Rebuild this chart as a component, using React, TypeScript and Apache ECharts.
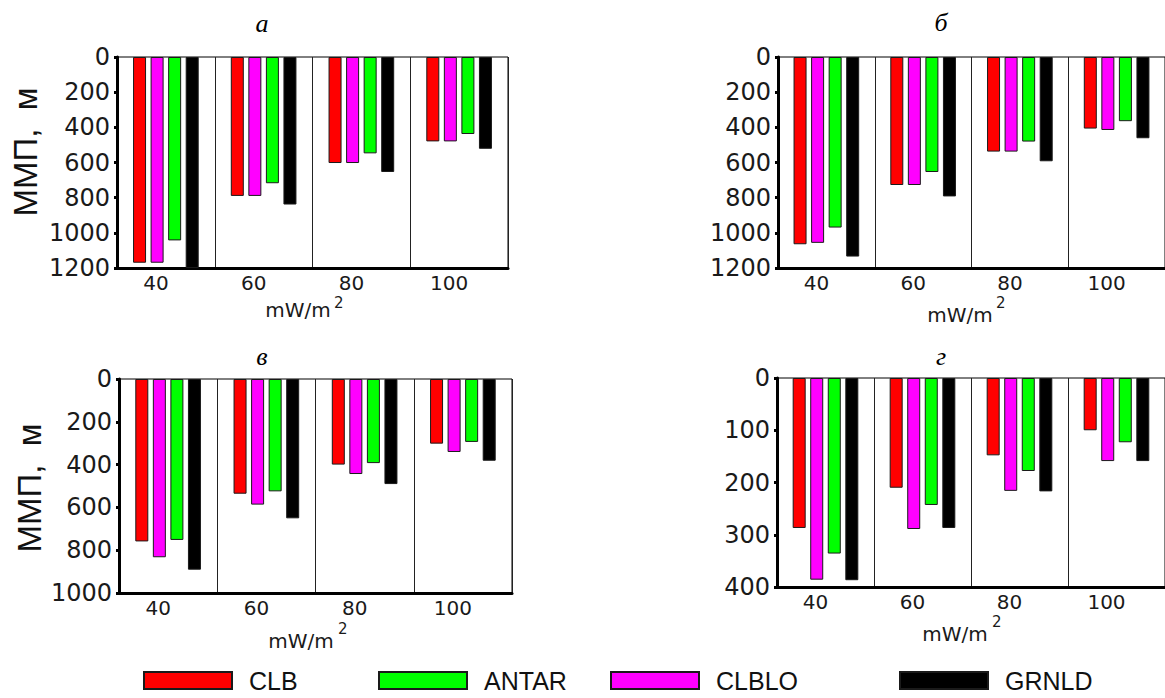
import React, { useEffect, useRef } from 'react';
import * as echarts from 'echarts';

// ---- data ----
const categories = ['40', '60', '80', '100'];
const seriesOrder = ['CLB', 'CLBLO', 'ANTAR', 'GRNLD'];
const legendOrder = ['CLB', 'ANTAR', 'CLBLO', 'GRNLD'];
const panelTitles = ['а', 'б', 'в', 'г'];
const yMaxes = [1200, 1200, 1000, 400];
const ySteps = [200, 200, 200, 100];

// panel а
const aCLB = [1170, 790, 603, 480];
const aCLBLO = [1170, 790, 603, 480];
const aANTAR = [1043, 718, 548, 438];
const aGRNLD = [1200, 839, 654, 522];
// panel б
const bCLB = [1065, 728, 538, 407];
const bCLBLO = [1057, 728, 538, 415];
const bANTAR = [970, 654, 481, 365];
const bGRNLD = [1135, 793, 593, 462];
// panel в
const vCLB = [759, 536, 400, 302];
const vCLBLO = [833, 587, 444, 341];
const vANTAR = [752, 525, 393, 294];
const vGRNLD = [891, 651, 491, 382];
// panel г
const gCLB = [287, 210, 148, 100];
const gCLBLO = [386, 289, 216, 159];
const gANTAR = [336, 243, 178, 123];
const gGRNLD = [387, 287, 217, 159];

const panelData: Record<string, number[]>[] = [
  { CLB: aCLB, CLBLO: aCLBLO, ANTAR: aANTAR, GRNLD: aGRNLD },
  { CLB: bCLB, CLBLO: bCLBLO, ANTAR: bANTAR, GRNLD: bGRNLD },
  { CLB: vCLB, CLBLO: vCLBLO, ANTAR: vANTAR, GRNLD: vGRNLD },
  { CLB: gCLB, CLBLO: gCLBLO, ANTAR: gANTAR, GRNLD: gGRNLD },
];

const seriesColors: Record<string, string> = {
  CLB: '#ff0000',
  CLBLO: '#ff00ff',
  ANTAR: '#00ff00',
  GRNLD: '#000000',
};

const yName = 'ММП,  м';
const xName = 'mW/m';
const xNameSup = '2';

export default function App() {
  const ref = useRef<HTMLDivElement>(null);

  useEffect(() => {
    if (!ref.current) return;
    const chart = echarts.init(ref.current, undefined, { renderer: 'svg' });

    const grids = [
      { left: 117, top: 57, width: 391, height: 211 },
      { left: 778, top: 57, width: 392, height: 211 },
      { left: 119, top: 379, width: 393, height: 214 },
      { left: 777, top: 378, width: 388, height: 209 },
    ];
    const titlePos = [
      [262, 23],
      [941, 22],
      [262, 356],
      [941, 356],
    ];
    // [mW/m centre x, centre y, "2" left x, "2" centre y]
    const xNamePos = [
      [298, 310, 334, 303],
      [960, 315, 996, 303],
      [301, 641, 338, 629],
      [955, 634, 992, 622],
    ];
    const yNamePos = [
      [25, 152],
      [29, 488],
    ];
    const legendLeft = [143, 378, 610, 899];

    const axisFont = "'DejaVu Sans', 'Liberation Sans', sans-serif";
    const textFont = "'Liberation Sans', Arial, sans-serif";

    const graphic: any[] = [];
    panelTitles.forEach((t, i) => {
      graphic.push({
        type: 'text',
        x: titlePos[i][0],
        y: titlePos[i][1],
        style: {
          text: t,
          fontSize: 26,
          fontStyle: 'italic',
          fontFamily: "'Liberation Serif', 'DejaVu Serif', serif",
          fill: '#000',
          textAlign: 'center',
          textVerticalAlign: 'middle',
        },
      });
      graphic.push({
        type: 'text',
        x: xNamePos[i][0],
        y: xNamePos[i][1],
        style: {
          text: xName,
          fontSize: 20,
          fontFamily: axisFont,
          fill: '#1a1a1a',
          textAlign: 'center',
          textVerticalAlign: 'middle',
        },
      });
      graphic.push({
        type: 'text',
        x: xNamePos[i][2],
        y: xNamePos[i][3],
        style: {
          text: xNameSup,
          fontSize: 15,
          fontFamily: axisFont,
          fill: '#1a1a1a',
          textAlign: 'left',
          textVerticalAlign: 'middle',
        },
      });
    });
    yNamePos.forEach((p) => {
      graphic.push({
        type: 'text',
        x: p[0],
        y: p[1],
        rotation: Math.PI / 2,
        style: {
          text: yName,
          fontSize: 33,
          fontFamily: textFont,
          fill: '#111',
          textAlign: 'center',
          textVerticalAlign: 'middle',
        },
      });
    });

    const series: any[] = [];
    panelData.forEach((pd, i) => {
      seriesOrder.forEach((name) => {
        series.push({
          type: 'bar',
          name,
          xAxisIndex: i,
          yAxisIndex: i,
          data: pd[name],
          barWidth: 13,
          barGap: '35%',
          silent: true,
          itemStyle: {
            color: seriesColors[name],
            borderColor: '#1a1a1a',
            borderWidth: 1,
          },
        });
      });
    });

    const option: any = {
      animation: false,
      backgroundColor: '#ffffff',
      grid: grids.map((g) => ({
        ...g,
        show: true,
        borderColor: '#000',
        borderWidth: 1,
        backgroundColor: 'transparent',
      })),
      xAxis: grids.map((_, i) => ({
        type: 'category',
        gridIndex: i,
        data: categories,
        axisLine: { show: true, onZero: false, lineStyle: { color: '#000', width: 3 } },
        axisTick: { show: false },
        axisLabel: {
          fontSize: 20,
          fontFamily: axisFont,
          color: '#1a1a1a',
          margin: 5,
          padding: [0, 20, 0, 0],
        },
        splitLine: { show: true, interval: 0, lineStyle: { color: '#222', width: 1 } },
      })),
      yAxis: grids.map((_, i) => ({
        type: 'value',
        gridIndex: i,
        inverse: true,
        min: 0,
        max: yMaxes[i],
        interval: ySteps[i],
        axisLine: { show: true, lineStyle: { color: '#000', width: 3 } },
        axisTick: { show: true, length: 3, lineStyle: { color: '#000', width: 3 } },
        axisLabel: {
          fontSize: 24,
          fontFamily: axisFont,
          color: '#1a1a1a',
          margin: 7,
          padding: [8, 0, 0, 0],
          formatter: (v: number) => String(v),
        },
        splitLine: { show: false },
      })),
      legend: legendOrder.map((name, i) => ({
        data: [name],
        left: legendLeft[i],
        top: 668,
        padding: 0,
        icon: 'rect',
        itemWidth: 88,
        itemHeight: 17,
        selectedMode: false,
        textStyle: {
          fontSize: 25,
          fontFamily: textFont,
          color: '#111',
          padding: [0, 0, 0, 12],
        },
      })),
      graphic,
      series,
    };

    chart.setOption(option);
    return () => chart.dispose();
  }, []);

  return (
    <div
      ref={ref}
      style={{ position: 'fixed', left: 0, top: 0, width: 1165, height: 698, background: '#fff' }}
    />
  );
}
